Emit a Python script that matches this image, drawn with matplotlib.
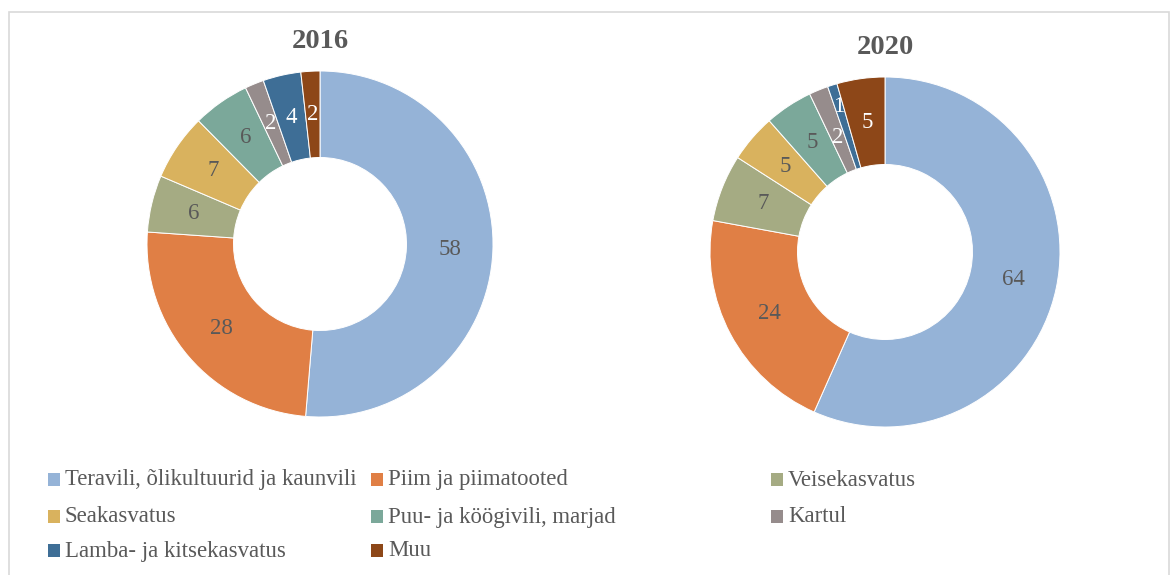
import matplotlib
matplotlib.use("Agg")
import matplotlib.pyplot as plt
import numpy as np
from matplotlib.patches import Rectangle

categories = ["Teravili, õlikultuurid ja kaunvili", "Piim ja piimatooted", "Veisekasvatus",
              "Seakasvatus", "Puu- ja köögivili, marjad", "Kartul",
              "Lamba- ja kitsekasvatus", "Muu"]
values_2016 = [58, 28, 6, 7, 6, 2, 4, 2]
values_2020 = [64, 24, 7, 5, 5, 2, 1, 5]
colors = ["#95B3D7", "#E07F45", "#A5AB83", "#D9B25E", "#7BA89A", "#968C8C", "#3E6E96", "#8D4718"]
label_colors = ["#595959"] * 5 + ["white"] * 3

W, H = 1174, 575
plt.rcParams["font.family"] = ["Liberation Serif", "DejaVu Serif"]
fig = plt.figure(figsize=(W / 100, H / 100), dpi=100)

# light frame
fig.patches.append(Rectangle((9 / W, -0.05), (1169 - 9) / W, 1.05 - 12 / H,
                             transform=fig.transFigure, fill=False,
                             edgecolor="#D9D9D9", linewidth=1.2))


def donut(cx, cy, r, vals, title, ty, label_r=None):
    label_r = label_r or {}
    ax = fig.add_axes([(cx - r) / W, (H - cy - r) / H, 2 * r / W, 2 * r / H])
    wedges, _ = ax.pie(vals, colors=colors, startangle=90, counterclock=False,
                       radius=1, wedgeprops=dict(width=0.5, edgecolor="white", linewidth=0.7))
    for i, (w, v, c) in enumerate(zip(wedges, vals, label_colors)):
        ang = np.deg2rad((w.theta1 + w.theta2) / 2)
        d = label_r.get(i, 0.75)
        ax.text(d * np.cos(ang), d * np.sin(ang), str(v), ha="center", va="center",
                fontsize=16.5, color=c)
    ax.set_xlim(-1, 1)
    ax.set_ylim(-1, 1)
    ax.set_aspect("equal")
    ax.axis("off")
    fig.text(cx / W, 1 - ty / H, title, ha="center", va="center", fontsize=20.5,
             fontweight="bold", color="#595959")


donut(320, 244, 173, values_2016, "2016", 42)
donut(885, 252, 175, values_2020, "2020", 47, label_r={5: 0.71, 6: 0.87})

# legend, three columns
col_x = [48, 371, 771]
row_y = [480, 517, 551]
for i, (name, col) in enumerate(zip(categories, colors)):
    x = col_x[i % 3]
    y = row_y[i // 3]
    fig.patches.append(Rectangle((x / W, 1 - (y + 6) / H), 12 / W, 13 / H,
                                 transform=fig.transFigure, facecolor=col, edgecolor="none"))
    fig.text((x + 17) / W, 1 - y / H, name, ha="left", va="center", fontsize=16.4,
             color="#595959")

fig.savefig("out.png", dpi=100)
